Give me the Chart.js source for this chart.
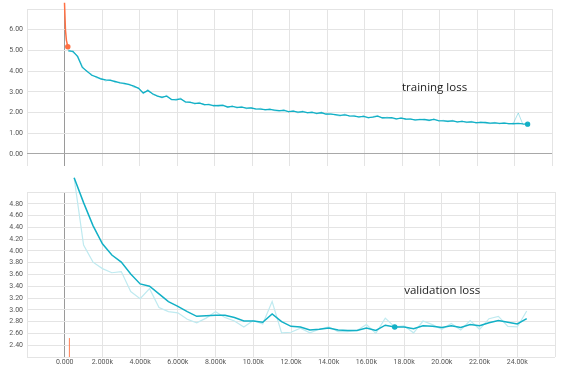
<!DOCTYPE html>
<html>
<head>
<meta charset="utf-8">
<script src="https://cdn.jsdelivr.net/npm/chart.js@4.4.0/dist/chart.umd.min.js"></script>
<style>
  body { margin: 0; background: #fff; width: 563px; height: 369px; overflow: hidden; position: relative; }
  canvas { position: absolute; left: 0; }
  #trainChart { top: 0; }
  #valChart { top: 170px; }
</style>
</head>
<body>
<canvas id="trainChart" width="563" height="170"></canvas>
<canvas id="valChart" width="563" height="199"></canvas>
<script>
// x axis (steps)
const stepTicks = [-2000, 0, 2000, 4000, 6000, 8000, 10000, 12000, 14000, 16000, 18000, 20000, 22000, 24000, 26000];

// training loss, logged every 250 steps from step 200
const trainStart = 200;
const trainEvery = 250;
const trainLoss = [
  4.98, 4.96, 4.70, 4.18, 4.00, 3.80, 3.72, 3.62, 3.58, 3.55,
  3.50, 3.43, 3.41, 3.35, 3.28, 3.17, 2.95, 3.06, 2.91, 2.79,
  2.74, 2.79, 2.64, 2.61, 2.66, 2.52, 2.49, 2.44, 2.46, 2.39,
  2.38, 2.34, 2.33, 2.35, 2.27, 2.30, 2.25, 2.26, 2.21, 2.22,
  2.18, 2.17, 2.14, 2.15, 2.12, 2.09, 2.11, 2.05, 2.07, 2.02,
  2.04, 2.00, 2.01, 1.96, 1.99, 1.93, 1.92, 1.90, 1.86, 1.89,
  1.84, 1.83, 1.79, 1.82, 1.76, 1.78, 1.83, 1.75, 1.74, 1.76,
  1.70, 1.73, 1.69, 1.68, 1.65, 1.66, 1.67, 1.63, 1.67, 1.61,
  1.60, 1.58, 1.60, 1.55, 1.57, 1.54, 1.55, 1.51, 1.52, 1.52,
  1.49, 1.50, 1.48, 1.49, 1.47, 1.46, 1.48, 1.45, 1.44
];
// unsmoothed training loss (faint halo)
const trainRaw = [
  5.05, 4.90, 4.75, 4.25, 3.95, 3.85, 3.68, 3.66, 3.52, 3.60,
  3.45, 3.47, 3.36, 3.38, 3.22, 3.20, 2.90, 3.12, 2.86, 2.83,
  2.70, 2.84, 2.60, 2.65, 2.70, 2.48, 2.53, 2.40, 2.50, 2.36,
  2.42, 2.30, 2.37, 2.38, 2.24, 2.33, 2.21, 2.30, 2.18, 2.25,
  2.15, 2.21, 2.11, 2.19, 2.09, 2.06, 2.15, 2.02, 2.10, 1.98,
  2.08, 1.97, 2.05, 1.93, 2.03, 1.90, 1.95, 1.87, 1.83, 1.93,
  1.81, 1.87, 1.76, 1.85, 1.73, 1.81, 1.86, 1.72, 1.78, 1.73,
  1.67, 1.76, 1.66, 1.71, 1.62, 1.69, 1.64, 1.60, 1.70, 1.58,
  1.63, 1.55, 1.63, 1.52, 1.60, 1.51, 1.58, 1.48, 1.55, 1.49,
  1.46, 1.53, 1.45, 1.52, 1.44, 1.50, 1.98, 1.42, 1.47
];
// the other (orange) run, only the first few steps
const trainOrangeSteps = [0, 50, 100, 175];
const trainOrangeLoss = [7.3, 6.0, 5.5, 5.18];
const trainTicks = [0, 1, 2, 3, 4, 5, 6, 7];

// validation loss, every 500 steps
const valSteps = [
  500, 1000, 1500, 2000, 2500, 3000, 3500, 4000, 4500, 5000,
  5500, 6000, 6500, 7000, 7500, 8000, 8500, 9000, 9500, 10000,
  10500, 11000, 11500, 12000, 12500, 13000, 13500, 14000, 14500, 15000,
  15500, 16000, 16500, 17000, 17500, 18000, 18500, 19000, 19500, 20000,
  20500, 21000, 21500, 22000, 22500, 23000, 23500, 24000, 24500
];
const valSmooth = [
  5.24, 4.82, 4.43, 4.12, 3.93, 3.81, 3.61, 3.44, 3.40, 3.27,
  3.14, 3.06, 2.97, 2.89, 2.90, 2.91, 2.91, 2.87, 2.81, 2.81,
  2.79, 2.93, 2.80, 2.72, 2.71, 2.66, 2.67, 2.69, 2.66, 2.65,
  2.65, 2.69, 2.65, 2.74, 2.71, 2.71, 2.68, 2.73, 2.72, 2.70,
  2.73, 2.70, 2.75, 2.73, 2.78, 2.82, 2.79, 2.76, 2.85
];
const valRaw = [
  5.24, 4.10, 3.81, 3.70, 3.63, 3.65, 3.31, 3.19, 3.36, 3.04,
  2.97, 2.95, 2.84, 2.78, 2.86, 2.97, 2.87, 2.81, 2.71, 2.82,
  2.76, 3.14, 2.61, 2.62, 2.69, 2.61, 2.67, 2.71, 2.63, 2.63,
  2.65, 2.75, 2.60, 2.86, 2.71, 2.73, 2.61, 2.81, 2.75, 2.67,
  2.77, 2.66, 2.82, 2.67, 2.85, 2.89, 2.72, 2.71, 2.98
];
const valOrangeSteps = [250, 250];
const valOrangeLoss = [2.52, 2.2];
const valTicks = [2.2, 2.4, 2.6, 2.8, 3.0, 3.2, 3.4, 3.6, 3.8, 4.0, 4.2, 4.4, 4.6, 4.8, 5.0];

const cyan = '#12b0c6';
const cyanLight = '#bfeaf0';
const orange = '#ff7043';

const trainX = trainLoss.map((v, i) => trainStart + i * trainEvery);
const toPoints = (xs, ys) => xs.map((x, i) => ({ x: x, y: ys[i] }));

function fmtStep(v) {
  if (v === 0) return '0.000';
  if (v < 0 || v > 24000) return '';
  return v < 10000 ? (v / 1000).toFixed(3) + 'k' : (v / 1000).toFixed(2) + 'k';
}

function noPad(s) {
  s.paddingTop = 0; s.paddingBottom = 0; s.paddingLeft = 0; s.paddingRight = 0;
}

function xScale(showLabels, h) {
  return {
    type: 'linear', min: -2000, max: 26000,
    afterBuildTicks: s => { s.ticks = stepTicks.map(v => ({ value: v })); },
    afterFit: s => { s.height = h; noPad(s); },
    border: { display: false },
    grid: { drawTicks: false, color: c => (c.tick && c.tick.value === 0) ? '#9a9a9a' : '#e4e4e4' },
    ticks: {
      display: showLabels, padding: 1, autoSkip: false, maxRotation: 0,
      color: '#555', font: { family: 'Roboto', size: 7 },
      callback: v => fmtStep(v)
    }
  };
}

function yScale(min, max, tickVals, hideFn) {
  return {
    type: 'linear', min: min, max: max,
    afterBuildTicks: s => { s.ticks = tickVals.map(v => ({ value: v })); },
    afterFit: s => { s.width = 27; noPad(s); },
    border: { display: false },
    grid: { drawTicks: false, color: c => (c.tick && c.tick.value === 0) ? '#a8a8a8' : '#e4e4e4' },
    ticks: {
      padding: 4, color: '#555', font: { family: 'Roboto', size: 7 },
      callback: v => hideFn(v) ? '' : v.toFixed(2)
    }
  };
}

const labelPlugin = {
  id: 'seriesLabel',
  afterDatasetsDraw: (chart, args, opts) => {
    const { ctx, scales } = chart;
    ctx.save();
    ctx.font = '11.5px "Open Sans"';
    ctx.fillStyle = '#222';
    ctx.textBaseline = 'middle';
    ctx.fillText(opts.text, scales.x.getPixelForValue(opts.step), scales.y.getPixelForValue(opts.value));
    ctx.restore();
  }
};

function dotAt(idx) {
  return c => c.dataIndex === idx ? 2 : 0;
}

const common = {
  responsive: false,
  animation: false,
  events: [],
  plugins: { legend: { display: false }, tooltip: { enabled: false } }
};

new Chart(document.getElementById('trainChart'), {
  type: 'line',
  data: {
    datasets: [
      {
        data: toPoints(trainX, trainLoss), borderColor: cyan, backgroundColor: cyan, borderWidth: 1.3,
        pointRadius: dotAt(trainLoss.length - 1), clip: false
      },
      {
        data: toPoints(trainOrangeSteps, trainOrangeLoss), borderColor: orange, backgroundColor: orange,
        borderWidth: 1.5, pointRadius: dotAt(trainOrangeSteps.length - 1), clip: false
      },
      {
        data: toPoints(trainX, trainRaw), borderColor: 'rgba(18,176,198,0.35)', borderWidth: 1,
        pointRadius: 0, clip: false
      }
    ]
  },
  options: Object.assign({}, common, {
    layout: { autoPadding: false, padding: { top: 9, right: 11, bottom: 4, left: 0 } },
    scales: {
      x: xScale(false, 0),
      y: yScale(-0.58, 7, trainTicks, v => v > 6)
    },
    plugins: Object.assign({}, common.plugins, {
      seriesLabel: { text: 'training loss', step: 18000, value: 3.2 }
    })
  }),
  plugins: [labelPlugin]
});

new Chart(document.getElementById('valChart'), {
  type: 'line',
  data: {
    datasets: [
      {
        data: toPoints(valSteps, valSmooth), borderColor: cyan, backgroundColor: cyan, borderWidth: 1.5,
        pointRadius: dotAt(valSteps.indexOf(17500)), clip: false
      },
      {
        data: toPoints(valSteps, valRaw), borderColor: cyanLight, borderWidth: 1.2,
        pointRadius: 0, clip: false
      },
      {
        data: toPoints(valOrangeSteps, valOrangeLoss), borderColor: 'rgba(255,112,67,0.45)',
        borderWidth: 1, pointRadius: 0
      }
    ]
  },
  options: Object.assign({}, common, {
    layout: { autoPadding: false, padding: { top: 22, right: 8, bottom: 0, left: 0 } },
    scales: {
      x: xScale(true, 12),
      y: yScale(2.2, 5.0, valTicks, v => v < 2.3 || v > 4.9)
    },
    plugins: Object.assign({}, common.plugins, {
      seriesLabel: { text: 'validation loss', step: 18000, value: 3.32 }
    })
  }),
  plugins: [labelPlugin]
});
</script>
</body>
</html>
